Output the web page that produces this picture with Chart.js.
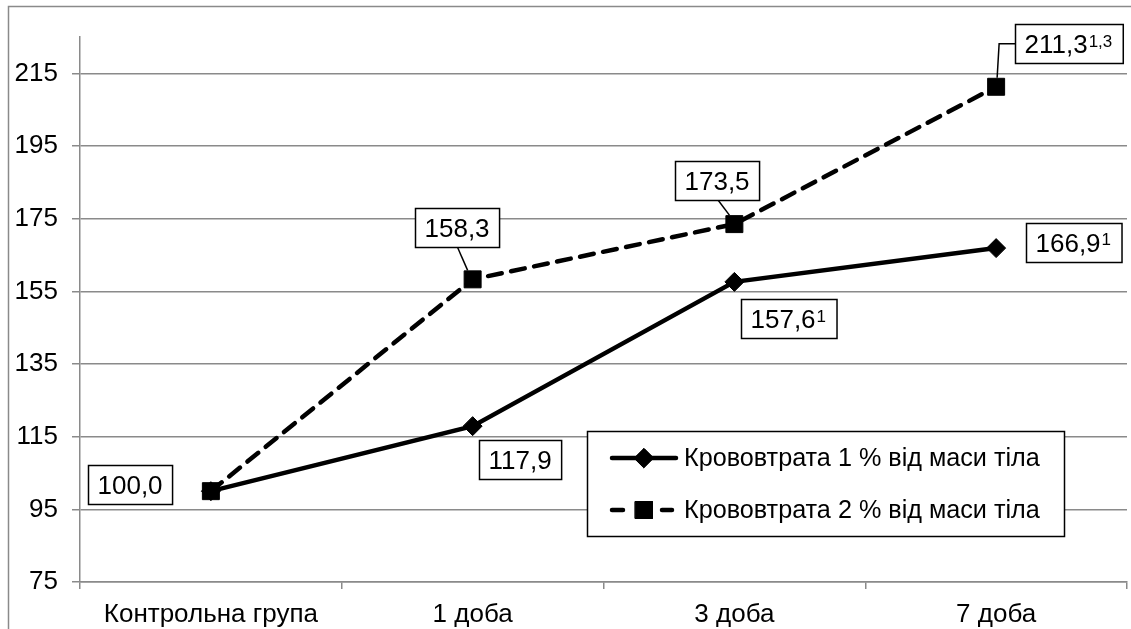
<!DOCTYPE html>
<html>
<head>
<meta charset="utf-8">
<script src="https://cdn.jsdelivr.net/npm/chart.js@4/dist/chart.umd.min.js"></script>
<style>
  html, body { margin: 0; padding: 0; background: #fff; overflow: hidden; }
  #wrap { position: relative; width: 1131px; height: 629px; }
</style>
</head>
<body>
<div id="wrap"><canvas id="chart" width="1131" height="629"></canvas></div>
<script>
const categories = ['Контрольна група', '1 доба', '3 доба', '7 доба'];
const loss1 = [100.0, 117.9, 157.6, 166.9];
const loss2 = [100.0, 158.3, 173.5, 211.3];
const notes1 = ['', '', '1', '1'];
const notes2 = ['', '', '', '1,3'];
const yTicks = [75, 95, 115, 135, 155, 175, 195, 215];
const seriesNames = ['Крововтрата 1 % від маси тіла', 'Крововтрата 2 % від маси тіла'];

const FONT = '"Liberation Sans", Arial, sans-serif';
const GRID = '#8a8a8a';
const DASH = [14, 9.5];

function fmt(v) {
    return v.toFixed(1).replace('.', ',');
}

// outer frame of the chart, it runs off the picture on the right and bottom
const framePlugin = {
    id: 'frame',
    beforeDraw(chart) {
        const ctx = chart.ctx;
        ctx.save();
        ctx.strokeStyle = GRID;
        ctx.lineWidth = 1.5;
        ctx.strokeRect(8.5, 6.5, 1300, 800);
        ctx.restore();
    }
};

// boxed value labels with leader lines
const labelPlugin = {
    id: 'boxLabels',
    afterDatasetsDraw(chart) {
        const ctx = chart.ctx;
        const notes = [notes1, notes2];
        // dataset, point, box centre offset x/y, leader
        const specs = [
            [1, 0, -81, -7, null],
            [0, 1, 47, 33, null],
            [0, 2, 54, 37, null],
            [0, 3, 78, -6, null],
            [1, 1, -16, -52, 'down'],
            [1, 2, -17, -44, 'down'],
            [1, 3, 73, -43, 'elbow']
        ];
        ctx.save();
        specs.forEach(([ds, i, dx, dy, leader]) => {
            const pt = chart.getDatasetMeta(ds).data[i];
            const value = chart.data.datasets[ds].data[i];
            const main = fmt(value);
            const sup = notes[ds][i];
            ctx.font = '26px ' + FONT;
            const w1 = ctx.measureText(main).width;
            ctx.font = '17px ' + FONT;
            const w2 = sup ? ctx.measureText(sup).width + 2 : 0;
            const w = w1 + w2 + 19;
            const h = 39;
            const cx = pt.x + dx;
            const cy = pt.y + dy;
            const left = Math.round(cx - w / 2) + 0.5;
            const top = Math.round(cy - h / 2) + 0.5;

            ctx.strokeStyle = '#000';
            ctx.lineWidth = 1.5;
            if (leader === 'down') {
                ctx.beginPath();
                ctx.moveTo(cx + 1, top + h);
                ctx.lineTo(pt.x - 5, pt.y - 9);
                ctx.stroke();
            } else if (leader === 'elbow') {
                ctx.beginPath();
                ctx.moveTo(left, cy);
                ctx.lineTo(pt.x + 3, cy);
                ctx.lineTo(pt.x + 1, pt.y - 9);
                ctx.stroke();
            }

            ctx.fillStyle = '#fff';
            ctx.fillRect(left, top, w, h);
            ctx.strokeRect(left, top, w, h);

            ctx.fillStyle = '#000';
            ctx.textBaseline = 'alphabetic';
            ctx.textAlign = 'left';
            ctx.font = '26px ' + FONT;
            ctx.fillText(main, left + 9, cy + 9.5);
            if (sup) {
                ctx.font = '17px ' + FONT;
                ctx.fillText(sup, left + 9 + w1 + 1, cy + 3);
            }
        });
        ctx.restore();
    }
};

// legend box inside the plot
const legendPlugin = {
    id: 'boxLegend',
    afterDraw(chart) {
        const ctx = chart.ctx;
        const x0 = 587.5, y0 = 431.5, bw = 477, bh = 105;
        ctx.save();
        ctx.fillStyle = '#fff';
        ctx.fillRect(x0, y0, bw, bh);
        ctx.strokeStyle = '#000';
        ctx.lineWidth = 1.5;
        ctx.strokeRect(x0, y0, bw, bh);

        const rows = [458, 510];
        chart.data.datasets.forEach((ds, k) => {
            const y = rows[k];
            ctx.strokeStyle = '#000';
            ctx.lineWidth = 4.5;
            ctx.lineCap = 'round';
            ctx.beginPath();
            if (k === 0) {
                ctx.moveTo(612, y);
                ctx.lineTo(676, y);
            } else {
                ctx.moveTo(612, y);
                ctx.lineTo(623, y);
                ctx.moveTo(662, y);
                ctx.lineTo(672, y);
            }
            ctx.stroke();
            ctx.fillStyle = '#000';
            ctx.lineWidth = 1;
            Chart.helpers.drawPoint(ctx, {
                pointStyle: ds.pointStyle,
                radius: ds.pointRadius,
                borderWidth: ds.pointBorderWidth,
                rotation: 0
            }, 644, y);
            ctx.fill();
            ctx.stroke();

            ctx.fillStyle = '#000';
            ctx.font = '25.2px ' + FONT;
            ctx.textBaseline = 'middle';
            ctx.textAlign = 'left';
            ctx.fillText(ds.label, 684, y + 1);
        });
        ctx.restore();
    }
};

new Chart(document.getElementById('chart'), {
    type: 'line',
    data: {
        labels: categories,
        datasets: [
            {
                label: seriesNames[0],
                data: loss1,
                borderColor: '#000',
                backgroundColor: '#000',
                borderWidth: 4.5,
                pointStyle: 'rectRot',
                pointRadius: 9.5,
                pointBorderWidth: 1,
                pointBackgroundColor: '#000',
                pointBorderColor: '#000',
                tension: 0,
                clip: false
            },
            {
                label: seriesNames[1],
                data: loss2,
                borderColor: '#000',
                backgroundColor: '#000',
                borderWidth: 4.5,
                borderDash: DASH,
                borderCapStyle: 'round',
                pointStyle: 'rect',
                pointRadius: 12,
                pointBorderWidth: 1,
                pointBackgroundColor: '#000',
                pointBorderColor: '#000',
                tension: 0,
                clip: false
            }
        ]
    },
    options: {
        responsive: false,
        animation: false,
        events: [],
        layout: { autoPadding: false, padding: { top: 37, right: 4, left: 0, bottom: 0 } },
        plugins: {
            legend: { display: false },
            tooltip: { enabled: false }
        },
        scales: {
            x: {
                offset: true,
                grid: {
                    offset: true,
                    drawOnChartArea: false,
                    drawTicks: true,
                    tickLength: 7,
                    color: GRID,
                    lineWidth: 1.5
                },
                border: { color: GRID, width: 1.5 },
                ticks: {
                    color: '#000',
                    font: { family: FONT, size: 26 },
                    padding: 10,
                    maxRotation: 0,
                    autoSkip: false
                },
                afterFit(scale) {
                    scale.height = 47;
                    scale.paddingLeft = 0;
                    scale.paddingRight = 0;
                }
            },
            y: {
                min: 75,
                max: 225,
                afterBuildTicks(scale) {
                    scale.ticks = yTicks.map(v => ({ value: v }));
                },
                grid: {
                    color: GRID,
                    lineWidth: 1.5,
                    tickLength: 8
                },
                border: { color: GRID, width: 1.5 },
                ticks: {
                    color: '#000',
                    font: { family: FONT, size: 26 },
                    padding: 14
                },
                afterFit(scale) {
                    scale.width = 80;
                    scale.paddingTop = 0;
                    scale.paddingBottom = 0;
                }
            }
        }
    },
    plugins: [framePlugin, labelPlugin, legendPlugin]
});
</script>
</body>
</html>
